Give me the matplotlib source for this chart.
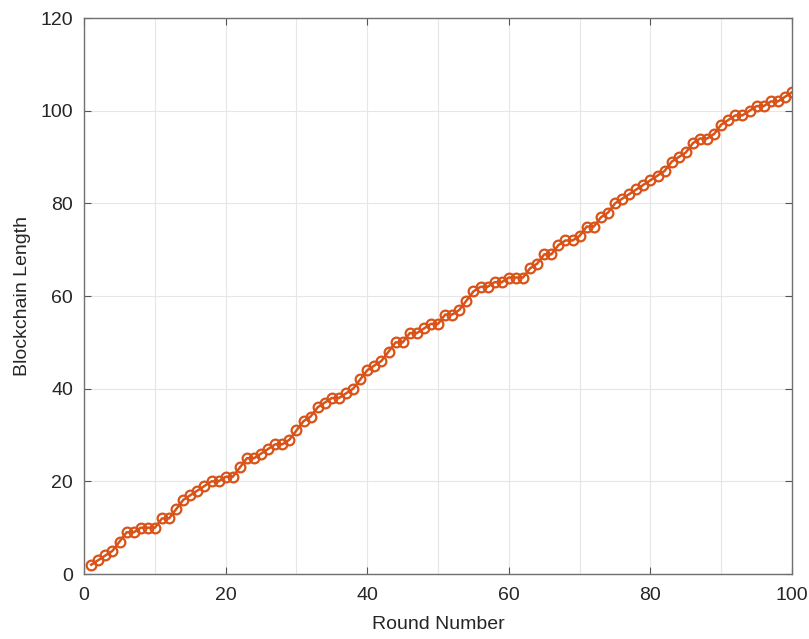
import numpy as np
import matplotlib.pyplot as plt

rounds = list(range(1, 101))
chain_length = [
    2, 3, 4, 5, 7, 9, 9, 10, 10, 10,
    12, 12, 14, 16, 17, 18, 19, 20, 20, 21,
    21, 23, 25, 25, 26, 27, 28, 28, 29, 31,
    33, 34, 36, 37, 38, 38, 39, 40, 42, 44,
    45, 46, 48, 50, 50, 52, 52, 53, 54, 54,
    56, 56, 57, 59, 61, 62, 62, 63, 63, 64,
    64, 64, 66, 67, 69, 69, 71, 72, 72, 73,
    75, 75, 77, 78, 80, 81, 82, 83, 84, 85,
    86, 87, 89, 90, 91, 93, 94, 94, 95, 97,
    98, 99, 99, 100, 101, 101, 102, 102, 103, 104,
]

text_color = "#262626"
line_color = "#D95319"
font = ["Liberation Sans", "DejaVu Sans"]

fig = plt.figure(figsize=(8.09, 6.39), dpi=100)
ax = fig.add_axes([0.104, 0.1017, 0.875, 0.870])

ax.plot(rounds, chain_length, color=line_color, linewidth=1.8,
        marker="o", markersize=7, markerfacecolor="none",
        markeredgecolor=line_color, markeredgewidth=1.6)

ax.set_xlim(0, 100)
ax.set_ylim(0, 120)
ax.set_xticks(np.arange(0, 101, 20))
ax.set_xticks(np.arange(10, 100, 20), minor=True)
ax.set_yticks(np.arange(0, 121, 20))

ax.grid(True, which="both", color="#e6e6e6", linewidth=0.8)
ax.set_axisbelow(True)
ax.tick_params(which="major", direction="in", top=True, right=True,
               length=5, width=0.8, colors="#555555", labelcolor=text_color,
               labelsize=14)
ax.tick_params(axis="x", which="major", pad=9)
ax.tick_params(axis="y", which="major", pad=8)
ax.tick_params(which="minor", length=0, top=True, right=True)
for lbl in ax.get_xticklabels() + ax.get_yticklabels():
    lbl.set_family(font)
for s in ax.spines.values():
    s.set_color("#707070")
    s.set_linewidth(1.0)

ax.set_xlabel("Round Number", fontsize=14, color=text_color, family=font, labelpad=9)
ax.set_ylabel("Blockchain Length", fontsize=14, color=text_color, family=font, labelpad=7)

fig.savefig("out.png", dpi=100)
